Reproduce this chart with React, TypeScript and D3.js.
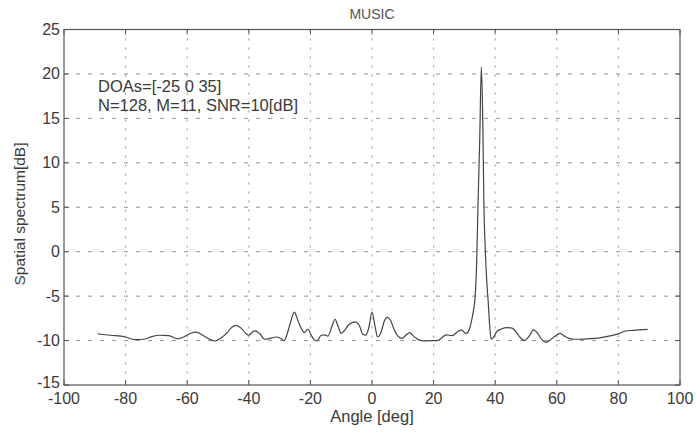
import React from "react";
import * as d3 from "d3";

const title = "MUSIC";
const xLabel = "Angle [deg]";
const yLabel = "Spatial spectrum[dB]";
const annotation1 = "DOAs=[-25 0 35]";
const annotation2 = "N=128, M=11, SNR=10[dB]";
const xTicks = [-100, -80, -60, -40, -20, 0, 20, 40, 60, 80, 100];
const yTicks = [-15, -10, -5, 0, 5, 10, 15, 20, 25];

const angles = [
  -89, -85, -80, -77, -74, -71.5, -69, -66, -63, -61.5, -59, -57, -55, -53, -51, -49, -47, -45.5, -44.2, -42.5,
  -41, -40, -39, -38, -36.5, -34.8, -33, -31, -29.5, -28.5, -27.5, -26.5, -25.2, -24, -23, -22, -20.8, -20, -19,
  -17.8, -16.5, -15.5, -14.3, -13, -12, -11, -10, -9, -7.5, -5.5, -4, -3, -2, -1, 0, 1, 1.8, 3, 4, 5, 6, 7, 8,
  9.8, 11, 12.2, 13.5, 15, 17, 19, 21, 22.5, 24, 26, 28, 29, 30.5, 31.5, 32.3, 33, 33.5, 34, 34.4, 35, 35.5, 36,
  36.3, 36.8, 37.3, 37.7, 38.2, 38.7, 39.5, 40.5, 42, 44, 45.5, 46.7, 48, 49.5, 51, 52.5, 54, 55, 56.5, 58, 59.5,
  61, 62.5, 64, 66, 70, 74, 77, 80, 82, 85, 89.5,
];
const spectrum = [
  -9.25, -9.4, -9.6, -9.9, -9.85, -9.55, -9.4, -9.45, -9.8, -9.65, -9.2, -9.05, -9.4, -9.8, -10.05, -9.7, -9.1, -8.5,
  -8.3, -8.6, -9.2, -9.4, -9.1, -8.9, -9.2, -9.85, -9.75, -9.6, -9.8, -10, -9.2, -8.0, -6.8, -7.8, -8.6, -9.1, -8.7,
  -9.2, -9.8, -10.05, -9.4, -9.35, -9.5, -8.4, -7.6, -8.4, -9.2, -8.9, -8.2, -7.9, -8.4, -9.3, -9.4, -8.5, -6.8, -8.4,
  -9.6, -9.0, -7.8, -7.4, -7.7, -8.6, -9.3, -9.75, -9.4, -9.1, -9.5, -9.9, -10.05, -10.0, -10.0, -9.75, -9.35, -9.45,
  -8.95, -8.8, -9.2, -8.8, -7.8, -6.5, -5, -1, 5, 13, 20.8, 14, 6, 0, -3.5, -5.5, -8.3, -9.85, -9.6, -9.0, -8.7,
  -8.55, -8.6, -9.0, -9.6, -10.0, -9.5, -8.8, -9.3, -9.8, -10.2, -9.9, -9.5, -9.2, -9.5, -9.75, -9.85, -9.8, -9.7,
  -9.5, -9.25, -8.95, -8.85, -8.75,
];

export default function App() {
  const W = 698;
  const H = 435;
  const left = 64, right = 680, top = 29.5, bottom = 385;
  const x = d3.scaleLinear().domain([-100, 100]).range([left, right]);
  const y = d3.scaleLinear().domain([-15, 25]).range([bottom, top]);
  const pts: [number, number][] = angles.map((a, i) => [a, spectrum[i]]);
  const line = d3
    .line<[number, number]>()
    .x((d) => x(d[0]))
    .y((d) => y(d[1]))
    .curve(d3.curveMonotoneX);
  const textColor = "#3a3a3a";
  const font = "Liberation Sans, Arial, sans-serif";
  return (
    <svg
      width={W}
      height={H}
      style={{ position: "absolute", left: 0, top: 0, background: "#fff" }}
      fontFamily={font}
    >
      {/* grid */}
      {xTicks.slice(1, -1).map((t) => (
        <line key={"gx" + t} x1={x(t)} x2={x(t)} y1={top} y2={bottom} stroke="#888" strokeWidth={0.9} strokeDasharray="2,7" />
      ))}
      {yTicks.slice(1, -1).map((t) => (
        <line key={"gy" + t} x1={left} x2={right} y1={y(t)} y2={y(t)} stroke="#888" strokeWidth={0.9} strokeDasharray="4,8" />
      ))}
      {/* ticks */}
      {xTicks.map((t) => (
        <g key={"tx" + t}>
          <line x1={x(t)} x2={x(t)} y1={bottom} y2={bottom - 5} stroke="#555" />
          <line x1={x(t)} x2={x(t)} y1={top} y2={top + 5} stroke="#555" />
          <text x={x(t)} y={404} textAnchor="middle" fontSize={16} fill={textColor}>
            {t}
          </text>
        </g>
      ))}
      {yTicks.map((t) => (
        <g key={"ty" + t}>
          <line x1={left} x2={left + 5} y1={y(t)} y2={y(t)} stroke="#555" />
          <line x1={right} x2={right - 5} y1={y(t)} y2={y(t)} stroke="#555" />
          <text x={60} y={y(t) + (t === -15 ? 3 : 5.5)} textAnchor="end" fontSize={16} fill={textColor}>
            {t}
          </text>
        </g>
      ))}
      {/* frame */}
      <rect x={left} y={top} width={right - left} height={bottom - top} fill="none" stroke="#555" strokeWidth={1.2} />
      {/* curve */}
      <path d={line(pts) || ""} fill="none" stroke="#444" strokeWidth={1.2} />
      {/* annotations */}
      <text x={98} y={92} fontSize={16.5} fill={textColor}>
        {annotation1}
      </text>
      <text x={98} y={111} fontSize={16.5} fill={textColor}>
        {annotation2}
      </text>
      {/* title & labels */}
      <text x={(left + right) / 2} y={18.5} textAnchor="middle" fontSize={14} fill="#555">
        {title}
      </text>
      <text x={(left + right) / 2} y={422} textAnchor="middle" fontSize={16.5} fill={textColor}>
        {xLabel}
      </text>
      <text
        transform={`translate(25,214) rotate(-90)`}
        textAnchor="middle"
        fontSize={15.5}
        fill={textColor}
      >
        {yLabel}
      </text>
    </svg>
  );
}
